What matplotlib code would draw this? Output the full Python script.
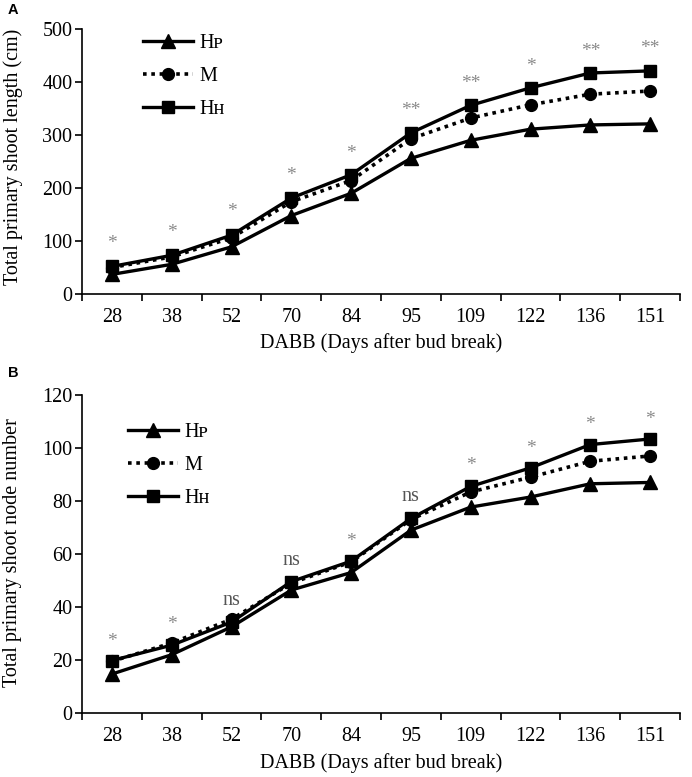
import matplotlib
matplotlib.use("Agg")
import matplotlib.pyplot as plt
from matplotlib.font_manager import FontProperties

plt.rcParams['font.family'] = ['Liberation Serif', 'DejaVu Serif']

days = ["28", "38", "52", "70", "84", "95", "109", "122", "136", "151"]
series_names = ["Hᴘ", "M", "Hʜ"]

# Panel A: total primary shoot length (cm)
len_hp = [37, 56, 89, 148, 190, 256, 290, 311, 319, 321]
len_m = [50, 70, 106, 174, 214, 293, 332, 357, 377, 383]
len_hh = [52, 73, 111, 181, 225, 304, 356, 389, 417, 421]
sig_a = ["*", "*", "*", "*", "*", "**", "**", "*", "**", "**"]
sig_a_y = [106, 128, 166, 234, 277, 357, 408, 440, 468, 474]

# Panel B: total primary shoot node number
node_hp = [14.7, 22, 32.5, 46.4, 53, 69, 77.7, 81.5, 86.5, 87]
node_m = [19.5, 26.4, 35.4, 49, 57, 73, 83.4, 89, 95, 97]
node_hh = [19.8, 25.6, 34.3, 49.6, 57.3, 73.4, 85.5, 92.5, 101.3, 103.4]
sig_b = ["*", "*", "ns", "ns", "*", "ns", "*", "*", "*", "*"]
sig_b_y = [29.4, 35.5, 42.6, 57.7, 67, 82, 95.5, 102, 111, 113]

FS = 14.5

fig = plt.figure(figsize=(6.92, 7.77), dpi=100)
W, H = 692, 777

def px_axes(x0, x1, ytop, ybot):
    return [x0 / W, 1 - ybot / H, (x1 - x0) / W, (ybot - ytop) / H]

axA = fig.add_axes(px_axes(82, 680, 29, 294))
axB = fig.add_axes(px_axes(82, 680, 395, 713))

leg_font = FontProperties(family=['Liberation Serif', 'DejaVu Serif'], size=FS)

def draw(ax, hp, m, hh, sig, sig_y, ymax, ystep, legend_anchor):
    x = list(range(len(days)))
    ax.plot(x, hp, color='black', lw=2.4, marker='^', ms=9.5, label=series_names[0])
    ax.plot(x, m, color='black', lw=2.6, ls=(0, (1, 1.3)), marker='o', ms=8.5,
            label=series_names[1])
    ax.plot(x, hh, color='black', lw=2.4, marker='s', ms=8.5, label=series_names[2])
    ax.set_xlim(-0.5, len(days) - 0.5)
    ax.set_ylim(0, ymax)
    ax.set_xticks(x)
    ax.set_xticklabels(days)
    ax.set_xticks([i - 0.5 for i in range(len(days) + 1)], minor=True)
    ax.tick_params(axis='x', which='major', length=0, pad=10, labelsize=FS)
    ax.tick_params(axis='x', which='minor', length=5, width=1.2, direction='out')
    ax.set_yticks(range(0, ymax + 1, ystep))
    ax.tick_params(axis='y', length=5, width=1.2, pad=2, labelsize=FS)
    for s in ['top', 'right']:
        ax.spines[s].set_visible(False)
    for s in ['left', 'bottom']:
        ax.spines[s].set_linewidth(1.2)
    for xi, lab, yv in zip(x, sig, sig_y):
        star = lab.startswith('*')
        off = -7.5 if star else -3.5
        ax.annotate(lab, (xi, yv), xytext=(0, off), textcoords='offset points',
                    ha='center', va='baseline', fontsize=14 if star else FS,
                    color='#8a8a8a' if star else '#555555')
    ax.legend(loc='upper left', bbox_to_anchor=legend_anchor, bbox_transform=fig.transFigure,
              frameon=False, prop=leg_font, handlelength=2.5, handletextpad=0.3,
              labelspacing=0.7, borderpad=0, borderaxespad=0)

draw(axA, len_hp, len_m, len_hh, sig_a, sig_a_y, 500, 100, (143 / W, 1 - 34 / H))
draw(axB, node_hp, node_m, node_hh, sig_b, sig_b_y, 120, 20, (128 / W, 1 - 423 / H))

fig.text(13 / W, 1 - 157 / H, "Total primary shoot length (cm)", rotation=90,
         ha='center', va='center', fontsize=FS)
fig.text(13 / W, 1 - 553 / H, "Total primary shoot node number", rotation=90,
         ha='center', va='center', fontsize=FS)
fig.text(381 / W, 1 - 343 / H, "DABB (Days after bud break)", ha='center', va='center',
         fontsize=FS)
fig.text(381 / W, 1 - 763 / H, "DABB (Days after bud break)", ha='center', va='center',
         fontsize=FS)
fig.text(13 / W, 1 - 10 / H, "A", ha='center', va='center', fontsize=10.5,
         fontweight='bold', family='Liberation Sans')
fig.text(13 / W, 1 - 373 / H, "B", ha='center', va='center', fontsize=10.5,
         fontweight='bold', family='Liberation Sans')

fig.savefig("out.png", dpi=100)
